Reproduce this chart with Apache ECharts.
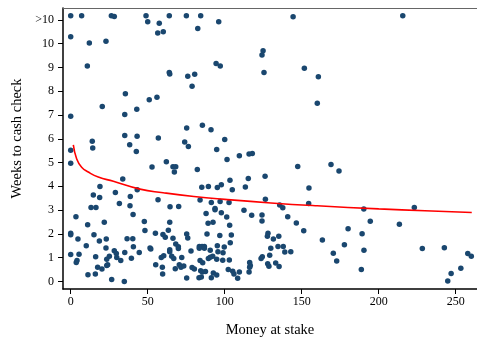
<!DOCTYPE html>
<html>
<head>
<meta charset="utf-8">
<title>Weeks to cash check</title>
<script src="https://cdn.jsdelivr.net/npm/echarts@6.0.0/dist/echarts.min.js"></script>
<style>
  html, body { margin: 0; padding: 0; background: #fff; }
  #chart { width: 477px; height: 343px; }
</style>
</head>
<body>
<div id="chart"></div>
<script>
  // money at stake (x) and weeks until the check was cashed (y), ">10" plotted at 11
  var moneyAtStake = [
    0, 7.1, 26.4, 28.3, 48.9, 50, 57.5, 56.5, 0, 12.1, 22.9, 10.8, 20.5, 35.5, 35.1, 42.9, 51, 56, 0, 35.1,
    43.1, 38.3, 14, 14.3, 56.9, 42.6, 0, 0, 52.8, 33.8, 19, 43.2, 56.7, 29, 14.7, 38.7, 18.8, 31.6, 38.5, 13.2,
    16.4, 40.5, 3.4, 21.8, 47.8, 48.2, 55, 11, 0, 0, 15.1, 18.6, 23.1, 4.7, 36.6, 40.3, 10.1, 22.9, 40.7, 51.5,
    52, 28.3, 29.6, 35.1, 44.5, 0, 5.4, 16.2, 25.1, 23.4, 29.9, 32.5, 39.4, 3.6, 4.1, 55.2, 23.4, 24, 17.5, 20.3,
    11.2, 16, 26.6, 34.8, 59.7, 75.3, 83.3, 84.8, 84.4, 85.5, 87.5, 91.3, 92.6, 94.8, 102.3, 105.2, 106, 109.5, 108.4, 115.8,
    188.7, 244.8, 247, 253.3, 64, 75.1, 84.4, 144.4, 96.1, 60.1, 82.5, 124.9, 124.2, 94.4, 97.1, 64, 64.3, 76, 80.5, 78.8,
    125.5, 151.7, 160.8, 160.1, 75.3, 85.5, 91.1, 74, 76.4, 100, 94.8, 215.6, 62.1, 66.4, 68.2, 67.3, 82.2, 101.5, 109.5, 115.8,
    117.9, 147.4, 126.2, 103.4, 115.3, 97.8, 95.2, 85.1, 89.4, 104.9, 113.4, 154.7, 84, 91.3, 97, 102.8, 126.4, 64.5, 70.1, 93.7,
    93.7, 112.5, 135.7, 137.7, 154.5, 87.9, 97.8, 101.3, 117.5, 124.2, 124.2, 140.9, 146.5, 151.3, 64.3, 89.2, 92.4, 103.2, 59.9, 61.4,
    63.4, 66.4, 75.3, 76, 88.5, 96.8, 104.3, 103.6, 128.1, 127.7, 131.6, 135.1, 68.2, 69.9, 69.9, 64.3, 64.3, 83.5, 83.5, 85.3,
    86.8, 86.8, 78.1, 90.6, 95.2, 99.7, 95.6, 98.9, 129.9, 134.6, 138, 139, 142.9, 129.2, 58.8, 60.4, 65.6, 66.9, 72.1, 84,
    85.7, 89.4, 90.6, 92.2, 94.8, 98.7, 103, 123.6, 124.4, 116.2, 116.6, 116.2, 127.9, 128.7, 133.1, 135.3, 59.5, 67.9, 70.5, 71.6,
    73.4, 78.8, 80.3, 169, 174.2, 190.3, 223.1, 194.5, 213.4, 163.4, 180.1, 189.2, 177.7, 170.5, 190.4, 172.7, 228.3, 242.6, 257.8, 260.1
  ];
  var weeksToCash = [
    11.17, 11.17, 11.17, 11.14, 11.17, 10.92, 10.86, 10.45, 10.29, 10.03, 10.1, 9.06, 7.36, 7.89, 7.02, 7.24, 7.64, 7.75, 6.95, 6.14,
    6.11, 5.75, 5.89, 5.61, 6.03, 5.46, 5.52, 4.97, 4.81, 4.31, 3.99, 3.86, 3.43, 3.74, 3.63, 3.57, 3.53, 3.28, 3.18, 3.11,
    3.11, 2.81, 2.72, 2.49, 2.52, 2.14, 2.03, 2.38, 2.03, 1.96, 1.96, 1.7, 1.78, 1.78, 1.79, 1.79, 1.5, 1.4, 1.46, 1.4,
    1.36, 1.29, 1.17, 1.22, 1.22, 1.13, 1.14, 1.04, 1.06, 0.93, 1.01, 0.88, 0.97, 0.79, 0.88, 0.7, 0.67, 0.7, 0.6, 0.52,
    0.28, 0.31, 0.08, 0, 0.31, 0.14, 0.15, 0.18, 0.45, 0.4, 0.42, 0.15, 0.35, 0.27, 0.5, 0.43, 0.31, 0.4, 0.13, 0.4,
    0.5, 0.02, 0.33, 0.55, 11.17, 11.17, 11.17, 11.13, 10.92, 10.5, 10.64, 9.7, 9.52, 9.17, 9.06, 8.79, 8.72, 8.63, 8.71, 8.21,
    8.79, 8.97, 8.61, 7.49, 6.45, 6.57, 6.38, 5.86, 5.67, 5.97, 5.55, 11.17, 5.03, 4.82, 4.82, 4.6, 4.71, 5.13, 5.29, 5.36,
    5.38, 4.83, 4.42, 4.25, 4.33, 4.06, 3.95, 3.96, 3.99, 3.86, 3.97, 3.93, 3.42, 3.32, 3.36, 3.32, 3.46, 3.14, 3.15, 3.07,
    3.01, 2.99, 3.21, 3.1, 3.28, 2.86, 2.89, 2.71, 2.78, 2.79, 2.54, 2.72, 2.46, 2.13, 2.49, 2.45, 2.49, 2.36, 1.97, 1.86,
    2.15, 1.82, 1.99, 1.83, 1.99, 1.93, 1.95, 1.63, 2.03, 1.9, 1.78, 1.9, 1.57, 1.46, 1.38, 1.33, 1.25, 1.47, 1.39, 1.47,
    1.47, 1.39, 1.28, 1.31, 1.5, 1.45, 1.25, 1.2, 1.39, 1.47, 1.47, 1.24, 1.25, 1.1, 1, 1.08, 1.06, 0.96, 1.01, 0.88,
    0.78, 0.96, 1.02, 1.06, 0.93, 0.89, 0.9, 0.96, 1.04, 0.79, 0.67, 0.6, 0.74, 0.64, 0.77, 0.63, 0.6, 0.53, 0.7, 0.6,
    0.65, 0.58, 0.52, 4.92, 4.64, 3.04, 3.11, 2.53, 2.4, 1.74, 2.21, 2, 1.54, 1.18, 1.31, 0.86, 1.38, 1.42, 1.17, 1.06
  ];

  // fitted line
  var fitX = [1.7, 3.9, 7.1, 11.4, 17.9, 27.7, 45, 60, 80, 100, 130, 160, 200, 230, 260.4];
  var fitY = [5.74, 5.15, 4.8, 4.6, 4.39, 4.21, 3.88, 3.73, 3.57, 3.45, 3.3, 3.18, 3.05, 2.97, 2.9];

  var xTicks = [0, 50, 100, 150, 200, 250];
  var yTicks = [0, 1, 2, 3, 4, 5, 6, 7, 8, 9, 10, 11];
  var yTickLabels = ["0", "1", "2", "3", "4", "5", "6", "7", "8", "9", "10", ">10"];

  var points = moneyAtStake.map(function(x, i) { return [x, weeksToCash[i]]; });
  var fitLine = fitX.map(function(x, i) { return [x, fitY[i]]; });

  var font = "Liberation Serif";
  var chart = echarts.init(document.getElementById("chart"));
  chart.setOption({
    animation: false,
    grid: { left: 63, right: 0, top: 8, bottom: 52 },
    xAxis: [{
      type: "value",
      min: -5,
      max: 263.8,
      name: "Money at stake",
      nameLocation: "middle",
      nameGap: 34,
      nameTextStyle: { fontFamily: font, fontSize: 14.5, color: "#000" },
      splitLine: { show: false },
      axisLine: { onZero: false, lineStyle: { color: "#000", width: 1.5 } },
      axisTick: { customValues: xTicks, length: 5, lineStyle: { color: "#000" } },
      axisLabel: {
        customValues: xTicks,
        margin: 7,
        fontFamily: font,
        fontSize: 12,
        color: "#000"
      }
    }, {
      // top frame line only
      type: "value",
      position: "top",
      min: -5,
      max: 263.8,
      splitLine: { show: false },
      axisLine: { onZero: false, lineStyle: { color: "#666", width: 1 } },
      axisTick: { show: false },
      axisLabel: { show: false }
    }],
    yAxis: {
      type: "value",
      min: -0.32,
      max: 11.5,
      name: "Weeks to cash check",
      nameLocation: "middle",
      nameGap: 35,
      nameTextStyle: { fontFamily: font, fontSize: 14.5, color: "#000", padding: [0, 0, 0, 20] },
      splitLine: { show: false },
      axisLine: { show: true, onZero: false, lineStyle: { color: "#000", width: 1.5 } },
      axisTick: { show: true, customValues: yTicks, length: 5, lineStyle: { color: "#000" } },
      axisLabel: {
        customValues: yTicks,
        margin: 9,
        fontFamily: font,
        fontSize: 12,
        color: "#000",
        formatter: function(v) {
          return yTickLabels[yTicks.indexOf(v)];
        }
      }
    },
    series: [{
      type: "scatter",
      data: points,
      symbolSize: 5.5,
      itemStyle: { color: "#1a476f", opacity: 1 }
    }, {
      type: "line",
      data: fitLine,
      smooth: true,
      showSymbol: false,
      lineStyle: { color: "#ff0000", width: 1.6 },
      z: 3
    }]
  });
</script>
</body>
</html>
